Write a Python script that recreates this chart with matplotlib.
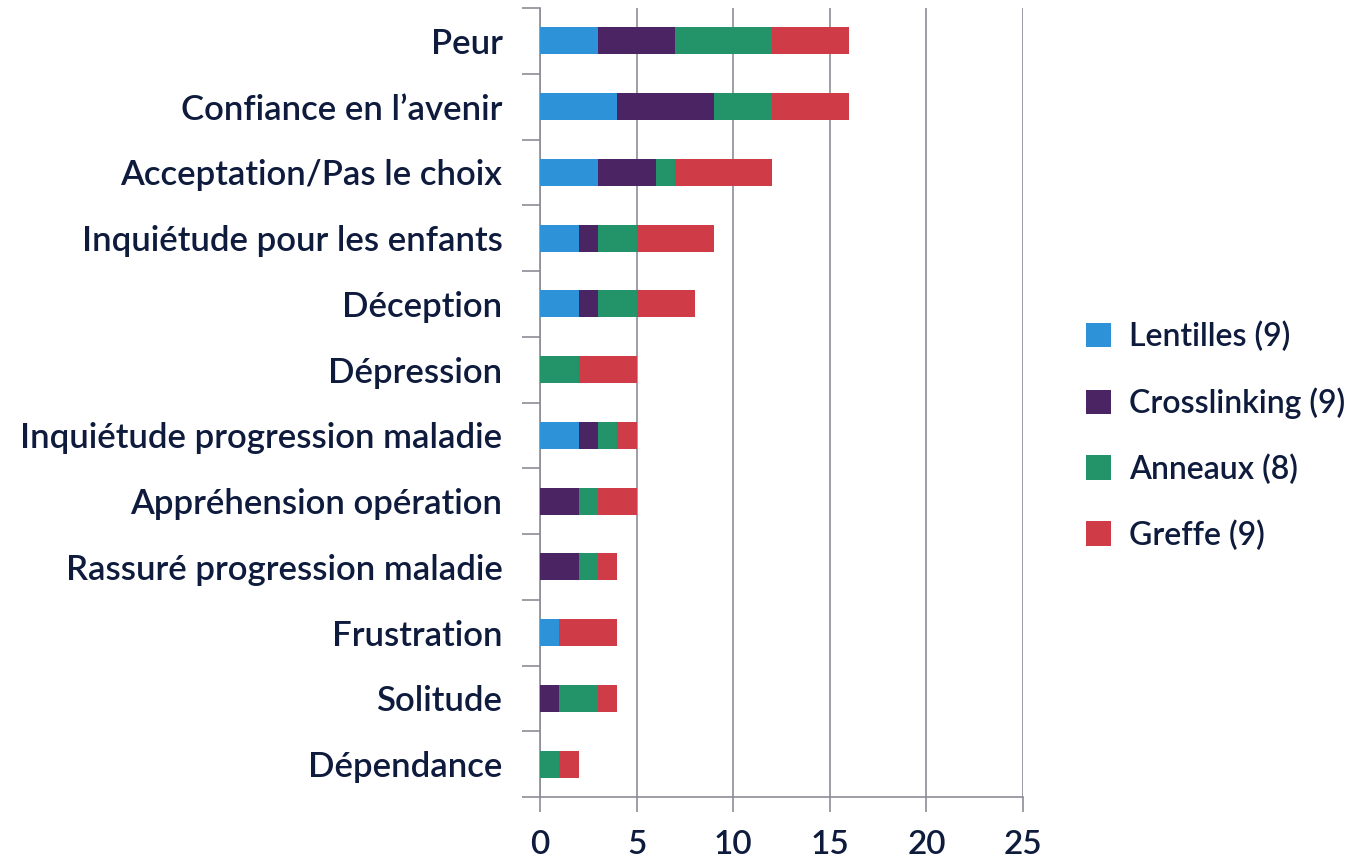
import matplotlib.pyplot as plt
import numpy as np

categories = ["Peur", "Confiance en l\u2019avenir", "Acceptation/Pas le choix",
              "Inqui\u00e9tude pour les enfants", "D\u00e9ception", "D\u00e9pression",
              "Inqui\u00e9tude progression maladie", "Appr\u00e9hension op\u00e9ration",
              "Rassur\u00e9 progression maladie", "Frustration", "Solitude", "D\u00e9pendance"]
lentilles = [3, 4, 3, 2, 2, 0, 2, 0, 0, 1, 0, 0]
crosslinking = [4, 5, 3, 1, 1, 0, 1, 2, 2, 0, 1, 0]
anneaux = [5, 3, 1, 2, 2, 2, 1, 1, 1, 0, 2, 1]
greffe = [4, 4, 5, 4, 3, 3, 1, 2, 1, 3, 1, 1]
series_names = ["Lentilles (9)", "Crosslinking (9)", "Anneaux (8)", "Greffe (9)"]
colors = ["#2E92D8", "#4B2464", "#23946A", "#CF3C48"]

plt.rcParams['font.family'] = ['Lato', 'DejaVu Sans']
plt.rcParams['font.weight'] = 'semibold'
text_color = "#0E1B3D"
grid_color = "#8C8C96"

fig = plt.figure(figsize=(13.56, 8.63), dpi=100)
ax = fig.add_axes([540 / 1356, 1 - 797 / 863, 483 / 1356, 789 / 863])

y = np.arange(len(categories))
left = np.zeros(len(categories))
for vals, name, c in zip([lentilles, crosslinking, anneaux, greffe], series_names, colors):
    ax.barh(y, vals, left=left, height=0.41, color=c, label=name, zorder=3)
    left += np.array(vals)

ax.set_xlim(0, 25)
ax.set_ylim(len(categories) - 0.5, -0.5)
ax.set_xticks(range(0, 26, 5))
ax.set_yticks(y)
ax.set_yticklabels(categories)
ax.set_yticks(np.arange(-0.5, len(categories)), minor=True)
ax.tick_params(axis='y', which='major', length=0, pad=27, labelsize=25, labelcolor=text_color)
ax.tick_params(axis='y', which='minor', length=13, width=1.2, color=grid_color)
ax.tick_params(axis='x', length=11, width=1.2, color=grid_color, pad=13,
               labelsize=24, labelcolor=text_color)
ax.grid(axis='x', color=grid_color, linewidth=1.2, zorder=0)
for s in ['top', 'right']:
    ax.spines[s].set_visible(False)
for s in ['left', 'bottom']:
    ax.spines[s].set_color(grid_color)
    ax.spines[s].set_linewidth(1.2)

leg = ax.legend(loc='center left', bbox_to_anchor=(1.07, 0.4575), frameon=False,
                fontsize=23, handlelength=0.8, handleheight=0.8, handletextpad=0.55,
                labelspacing=1.1, labelcolor=text_color)

fig.savefig("out.png", dpi=100)
